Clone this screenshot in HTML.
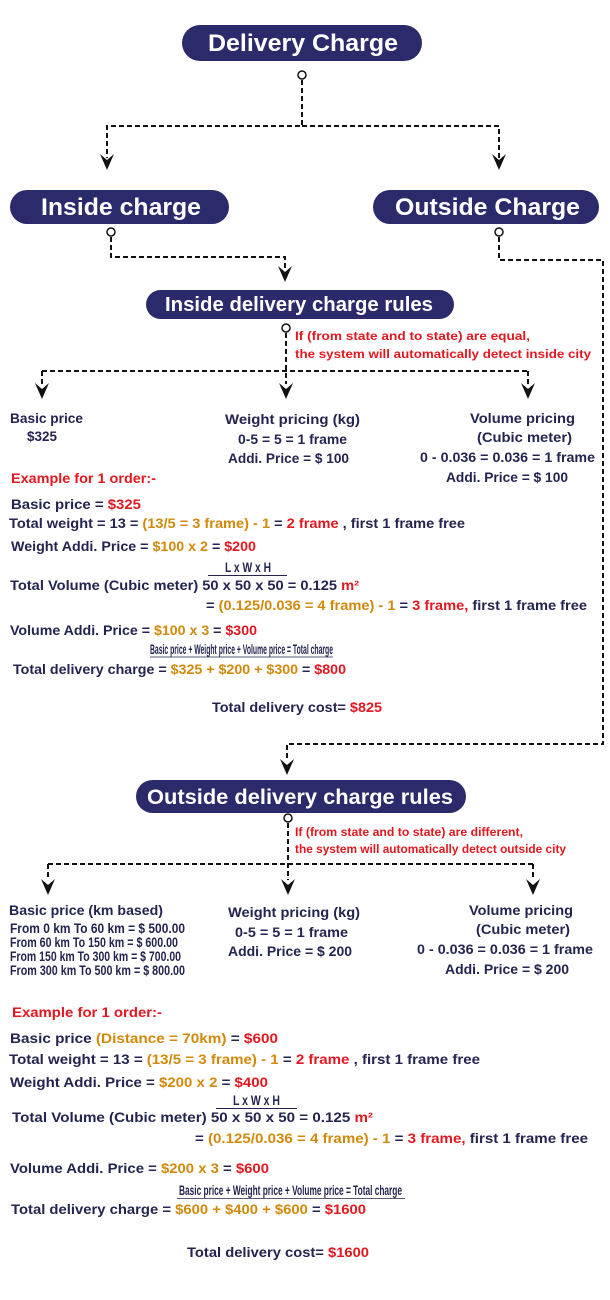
<!DOCTYPE html>
<html><head><meta charset="utf-8"><style>
html,body{margin:0;padding:0;background:#fff;}
svg{display:block;font-family:"Liberation Sans",sans-serif;font-weight:bold;}
.n{fill:#23244f;font-size:14px;}
.r{fill:#e3171f;}
.o{fill:#d0890b;}
.w{fill:#fff;}
.ln{fill:none;stroke:#111;stroke-width:2;stroke-dasharray:5,3;}
</style></head><body>
<svg width="610" height="1300" viewBox="0 0 610 1300" xmlns="http://www.w3.org/2000/svg">
<defs>
<path id="ah" d="M-7,-16 L0,-10 L7,-16 L0,0 Z" fill="#111"/>
</defs>
<!-- pills -->
<rect x="182" y="25" width="240" height="36" rx="18" fill="#2b2a6b"/>
<text x="208" y="51" class="w" font-size="24" textLength="190" lengthAdjust="spacingAndGlyphs">Delivery Charge</text>
<rect x="10" y="190" width="219" height="34" rx="17" fill="#2b2a6b"/>
<text x="41" y="215" class="w" font-size="24" textLength="160" lengthAdjust="spacingAndGlyphs">Inside charge</text>
<rect x="373" y="190" width="226" height="34" rx="17" fill="#2b2a6b"/>
<text x="395" y="215" class="w" font-size="24" textLength="185" lengthAdjust="spacingAndGlyphs">Outside Charge</text>
<rect x="146" y="290" width="308" height="29" rx="14.5" fill="#2b2a6b"/>
<text x="165" y="311" class="w" font-size="20" textLength="268" lengthAdjust="spacingAndGlyphs">Inside delivery charge rules</text>
<rect x="136" y="780" width="330" height="33" rx="16.5" fill="#2b2a6b"/>
<text x="147" y="804" class="w" font-size="21" textLength="306" lengthAdjust="spacingAndGlyphs">Outside delivery charge rules</text>

<!-- connectors -->
<circle cx="302" cy="75" r="4" fill="#fff" stroke="#111" stroke-width="1.5"/>
<path class="ln" d="M302,80 V126 H107 V158 M302,126 H499 V158"/>
<use href="#ah" x="107" y="170"/><use href="#ah" x="499" y="170"/>
<circle cx="111" cy="232" r="4" fill="#fff" stroke="#111" stroke-width="1.5"/>
<path class="ln" d="M111,237 V257 H285 V270"/>
<use href="#ah" x="285" y="282"/>
<circle cx="499" cy="232" r="4" fill="#fff" stroke="#111" stroke-width="1.5"/>
<path class="ln" d="M499,237 V260 H603 V744 H287 V760"/>
<use href="#ah" x="287" y="775"/>
<circle cx="286" cy="328" r="4" fill="#fff" stroke="#111" stroke-width="1.5"/>
<path class="ln" d="M286,333 V384 M42,371 H528 M42,371 V384 M528,371 V384"/>
<use href="#ah" x="42" y="399"/><use href="#ah" x="286" y="399"/><use href="#ah" x="528" y="399"/>
<circle cx="288" cy="818" r="4" fill="#fff" stroke="#111" stroke-width="1.5"/>
<path class="ln" d="M288,823 V880 M48,864 H533 M48,864 V880 M533,864 V880"/>
<use href="#ah" x="48" y="895"/><use href="#ah" x="288" y="895"/><use href="#ah" x="533" y="895"/>

<!-- red notes -->
<text x="295" y="340" class="r" font-size="12" textLength="235" lengthAdjust="spacingAndGlyphs">If (from state and to state) are equal,</text>
<text x="295" y="358" class="r" font-size="12" textLength="296" lengthAdjust="spacingAndGlyphs">the system will automatically detect inside city</text>
<text x="295" y="836" class="r" font-size="12" textLength="228" lengthAdjust="spacingAndGlyphs">If (from state and to state) are different,</text>
<text x="295" y="853" class="r" font-size="12" textLength="271" lengthAdjust="spacingAndGlyphs">the system will automatically detect outside city</text>

<!-- inside section -->
<text x="10" y="423" class="n" textLength="73" lengthAdjust="spacingAndGlyphs">Basic price</text>
<text x="27" y="441" class="n" textLength="30" lengthAdjust="spacingAndGlyphs">$325</text>
<text x="225" y="424" class="n" textLength="135" lengthAdjust="spacingAndGlyphs">Weight pricing (kg)</text>
<text x="238" y="444" class="n" textLength="109" lengthAdjust="spacingAndGlyphs">0-5 = 5 = 1 frame</text>
<text x="228" y="463" class="n" textLength="121" lengthAdjust="spacingAndGlyphs">Addi. Price = $ 100</text>
<text x="470" y="423" class="n" textLength="105" lengthAdjust="spacingAndGlyphs">Volume pricing</text>
<text x="477" y="442" class="n" textLength="95" lengthAdjust="spacingAndGlyphs">(Cubic meter)</text>
<text x="420" y="462" class="n" textLength="175" lengthAdjust="spacingAndGlyphs">0 - 0.036 = 0.036 = 1 frame</text>
<text x="446" y="482" class="n" textLength="122" lengthAdjust="spacingAndGlyphs">Addi. Price = $ 100</text>
<text x="11" y="483" class="n r" textLength="145" lengthAdjust="spacingAndGlyphs">Example for 1 order:-</text>
<text x="11" y="509" class="n" textLength="130" lengthAdjust="spacingAndGlyphs">Basic price    = <tspan class="r">$325</tspan></text>
<text x="9" y="528" class="n" textLength="456" lengthAdjust="spacingAndGlyphs">Total weight = 13 =  <tspan class="o">(13/5 = 3 frame) - 1</tspan> = <tspan class="r">2 frame</tspan>  , first 1 frame free</text>
<text x="11" y="551" class="n" textLength="245" lengthAdjust="spacingAndGlyphs">Weight Addi. Price = <tspan class="o">$100 x 2</tspan> = <tspan class="r">$200</tspan></text>
<text x="225" y="572" class="n" font-size="9" textLength="46" lengthAdjust="spacingAndGlyphs">L x W x H</text>
<line x1="208" y1="575.5" x2="287" y2="575.5" stroke="#23244f" stroke-width="1"/>
<text x="10" y="590" class="n" textLength="349" lengthAdjust="spacingAndGlyphs">Total Volume (Cubic meter)  50 x 50 x 50 = 0.125 <tspan class="r">m²</tspan></text>
<text x="206" y="610" class="n" textLength="381" lengthAdjust="spacingAndGlyphs">=  <tspan class="o">(0.125/0.036 = 4 frame) - 1</tspan> = <tspan class="r">3 frame,</tspan> first 1 frame free</text>
<text x="10" y="635" class="n" textLength="247" lengthAdjust="spacingAndGlyphs">Volume Addi. Price = <tspan class="o">$100 x 3</tspan> = <tspan class="r">$300</tspan></text>
<text x="150" y="654" class="n" font-size="7" textLength="183" lengthAdjust="spacingAndGlyphs">Basic price + Weight price + Volume price = Total charge</text>
<line x1="150" y1="657" x2="333" y2="657" stroke="#23244f" stroke-width="0.8"/>
<text x="13" y="674" class="n" textLength="333" lengthAdjust="spacingAndGlyphs">Total delivery charge = <tspan class="o">$325 + $200 + $300</tspan> = <tspan class="r">$800</tspan></text>
<text x="212" y="712" class="n" textLength="170" lengthAdjust="spacingAndGlyphs">Total delivery cost= <tspan class="r">$825</tspan></text>

<!-- outside section -->
<text x="9" y="915" class="n" textLength="154" lengthAdjust="spacingAndGlyphs">Basic price (km based)</text>
<text x="10" y="933" class="n" font-size="10" textLength="175" lengthAdjust="spacingAndGlyphs">From 0 km To 60 km = $ 500.00</text>
<text x="10" y="947" class="n" font-size="10" textLength="168" lengthAdjust="spacingAndGlyphs">From 60 km To 150 km = $ 600.00</text>
<text x="10" y="961" class="n" font-size="10" textLength="171" lengthAdjust="spacingAndGlyphs">From 150 km To 300 km = $ 700.00</text>
<text x="10" y="975" class="n" font-size="10" textLength="175" lengthAdjust="spacingAndGlyphs">From 300 km To 500 km = $ 800.00</text>
<text x="228" y="917" class="n" textLength="132" lengthAdjust="spacingAndGlyphs">Weight pricing (kg)</text>
<text x="235" y="937" class="n" textLength="113" lengthAdjust="spacingAndGlyphs">0-5 = 5 = 1 frame</text>
<text x="228" y="956" class="n" textLength="124" lengthAdjust="spacingAndGlyphs">Addi. Price = $ 200</text>
<text x="469" y="915" class="n" textLength="104" lengthAdjust="spacingAndGlyphs">Volume pricing</text>
<text x="476" y="934" class="n" textLength="94" lengthAdjust="spacingAndGlyphs">(Cubic meter)</text>
<text x="417" y="954" class="n" textLength="176" lengthAdjust="spacingAndGlyphs">0 - 0.036 = 0.036 = 1 frame</text>
<text x="445" y="974" class="n" textLength="124" lengthAdjust="spacingAndGlyphs">Addi. Price = $ 200</text>
<text x="12" y="1017" class="n r" textLength="150" lengthAdjust="spacingAndGlyphs">Example for 1 order:-</text>
<text x="10" y="1043" class="n" textLength="268" lengthAdjust="spacingAndGlyphs">Basic price  <tspan class="o">(Distance = 70km)</tspan> =  <tspan class="r">$600</tspan></text>
<text x="9" y="1064" class="n" textLength="471" lengthAdjust="spacingAndGlyphs">Total weight = 13 =  <tspan class="o">(13/5 = 3 frame) - 1</tspan> = <tspan class="r">2 frame</tspan>  , first 1 frame free</text>
<text x="10" y="1087" class="n" textLength="258" lengthAdjust="spacingAndGlyphs">Weight Addi. Price = <tspan class="o">$200 x 2</tspan> = <tspan class="r">$400</tspan></text>
<text x="233" y="1105" class="n" font-size="9" textLength="47" lengthAdjust="spacingAndGlyphs">L x W x H</text>
<line x1="216" y1="1108.5" x2="297" y2="1108.5" stroke="#23244f" stroke-width="1"/>
<text x="12" y="1122" class="n" textLength="361" lengthAdjust="spacingAndGlyphs">Total Volume (Cubic meter)  50 x 50 x 50 = 0.125 <tspan class="r">m²</tspan></text>
<text x="195" y="1143" class="n" textLength="393" lengthAdjust="spacingAndGlyphs">=  <tspan class="o">(0.125/0.036 = 4 frame) - 1</tspan> = <tspan class="r">3 frame,</tspan> first 1 frame free</text>
<text x="10" y="1173" class="n" textLength="259" lengthAdjust="spacingAndGlyphs">Volume Addi. Price = <tspan class="o">$200 x 3</tspan> = <tspan class="r">$600</tspan></text>
<text x="179" y="1195" class="n" font-size="8" textLength="223" lengthAdjust="spacingAndGlyphs">Basic price + Weight price + Volume price = Total charge</text>
<line x1="177" y1="1198.5" x2="405" y2="1198.5" stroke="#23244f" stroke-width="0.8"/>
<text x="11" y="1214" class="n" textLength="355" lengthAdjust="spacingAndGlyphs">Total delivery charge = <tspan class="o">$600 + $400 + $600</tspan> = <tspan class="r">$1600</tspan></text>
<text x="187" y="1257" class="n" textLength="182" lengthAdjust="spacingAndGlyphs">Total delivery cost= <tspan class="r">$1600</tspan></text>
</svg>
</body></html>
